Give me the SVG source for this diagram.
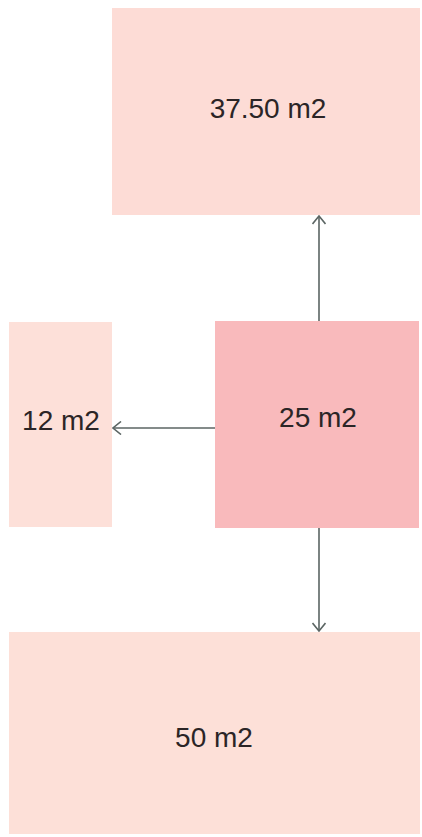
<svg xmlns="http://www.w3.org/2000/svg" width="422" height="837" viewBox="0 0 422 837">
<style>
.room{fill:#fddcd6}
.main{fill:#f9babc}
.lbl{font-family:"Liberation Sans",Arial,sans-serif;font-size:28px;fill:#2b2526;text-anchor:middle}
.conn{stroke:#5b6563;stroke-width:1.6;fill:none}
</style>
<defs>
<marker id="ah" viewBox="0 0 10 14" refX="9" refY="7" markerWidth="10" markerHeight="14" markerUnits="userSpaceOnUse" orient="auto">
<path d="M1,0.5 L9,7 L1,13.5" fill="none" stroke="#5b6563" stroke-width="1.6"/>
</marker>
</defs>
<rect width="422" height="837" fill="#ffffff"/>
<g id="top">
<rect class="room" x="112" y="8" width="308" height="207"/>
<text class="lbl" x="268" y="118">37.50 m2</text>
</g>
<g id="left">
<rect class="room" x="9" y="322" width="103" height="205" style="fill:#fde0d9"/>
<text class="lbl" x="61" y="430">12 m2</text>
</g>
<g id="center">
<rect class="main" x="215" y="321" width="204" height="207"/>
<text class="lbl" x="318" y="427">25 m2</text>
</g>
<g id="bottom">
<rect class="room" x="9" y="632" width="411" height="202" style="fill:#fde0d8"/>
<text class="lbl" x="214" y="747">50 m2</text>
</g>
<g id="connectors">
<line class="conn" x1="319" y1="321" x2="319" y2="216" marker-end="url(#ah)"/>
<line class="conn" x1="215" y1="428" x2="113" y2="428" marker-end="url(#ah)"/>
<line class="conn" x1="319" y1="528" x2="319" y2="631" marker-end="url(#ah)"/>
</g>
</svg>
